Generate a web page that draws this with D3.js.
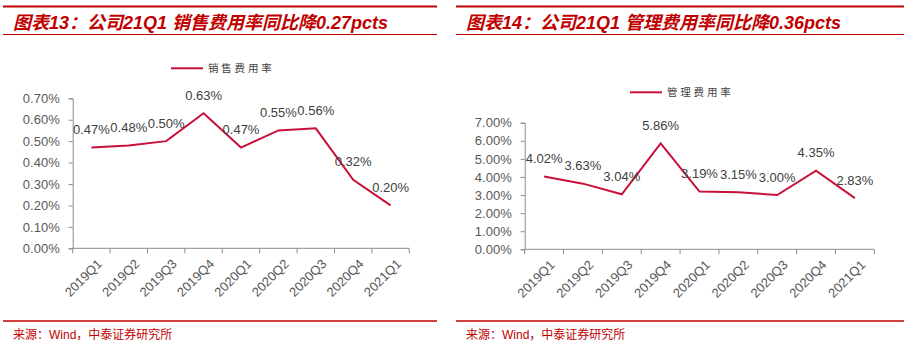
<!DOCTYPE html>
<html><head><meta charset="utf-8">
<script src="https://cdn.jsdelivr.net/npm/d3@7"></script>
<style>
body{margin:0;background:#fff;}
svg{display:block;}
</style></head>
<body>
<svg id="c" width="904" height="350"></svg>
<script>
const categories = ["2019Q1","2019Q2","2019Q3","2019Q4","2020Q1","2020Q2","2020Q3","2020Q4","2021Q1"];
const salesRate = [0.47,0.48,0.50,0.63,0.47,0.55,0.56,0.32,0.20];
const adminRate = [4.02,3.63,3.04,5.86,3.19,3.15,3.00,4.35,2.83];
const salesTicks = [0,0.1,0.2,0.3,0.4,0.5,0.6,0.7];
const adminTicks = [0,1,2,3,4,5,6,7];
const titles = ["图表13：公司21Q1 销售费用率同比降0.27pcts","图表14：公司21Q1 管理费用率同比降0.36pcts"];
const legendNames = ["销售费用率","管理费用率"];
const sourceText = "来源：Wind，中泰证券研究所";

const svg = d3.select("#c");
const RED = "#c00000", LINE = "#c8103a", AXIS = "#8c8c8c", TXT = "#595959", LBL = "#404040";
const FONT = "'Liberation Sans', Arial, sans-serif";
const MIX = "'Liberation Sans', 'Noto Sans CJK SC', sans-serif";
const CJK = "'Noto Sans CJK SC', sans-serif";

function panel(cfg){
  const g = svg.append("g");
  g.append("line").attr("x1",cfg.px0).attr("x2",cfg.px1).attr("y1",6.5).attr("y2",6.5).attr("stroke",RED).attr("stroke-width",2);
  g.append("line").attr("x1",cfg.px0).attr("x2",cfg.px1).attr("y1",34.5).attr("y2",34.5).attr("stroke",RED).attr("stroke-width",1);
  g.append("line").attr("x1",cfg.px0).attr("x2",cfg.bx1).attr("y1",321).attr("y2",321).attr("stroke",RED).attr("stroke-width",1.3);
  g.append("text").attr("x",cfg.px0+10).attr("y",28.5).attr("fill",RED)
    .attr("font-family",MIX).attr("font-size",18).attr("font-weight","bold").attr("font-style","italic")
    .text(cfg.title);
  g.append("text").attr("x",cfg.px0+10).attr("y",339).attr("fill",RED)
    .attr("font-family",MIX).attr("font-size",12).text(sourceText);

  const x = d3.scaleBand().domain(categories).range(cfg.xr);
  const y = d3.scaleLinear().domain(cfg.yd).range(cfg.yr);
  const y0 = y(0);
  const ya = g.append("g").attr("transform",`translate(${cfg.xr[0]},0)`)
    .call(d3.axisLeft(y).tickValues(cfg.ticks).tickSize(4).tickPadding(9).tickFormat(d=>d3.format(cfg.fmt)(d)+"%"));
  ya.select(".domain").attr("stroke",AXIS);
  ya.selectAll(".tick line").attr("stroke",AXIS);
  ya.selectAll(".tick text").attr("fill",TXT).attr("font-family",FONT).attr("font-size",13);
  g.append("line").attr("x1",cfg.xr[0]).attr("x2",cfg.xr[1]).attr("y1",y0).attr("y2",y0).attr("stroke",AXIS);
  const bounds = categories.map(c=>x(c)).concat([x.range()[1]]);
  g.selectAll(".xt").data(bounds).join("line").attr("x1",d=>d).attr("x2",d=>d).attr("y1",y0).attr("y2",y0+5).attr("stroke",AXIS);
  g.selectAll(".xl").data(categories).join("text")
    .attr("transform",d=>`translate(${x(d)+x.bandwidth()/2+5},${y0+10}) rotate(-45)`)
    .attr("text-anchor","end").attr("dy","0.7em").attr("fill",TXT).attr("font-family",FONT).attr("font-size",13).text(d=>d);
  const cx = d=>x(d)+x.bandwidth()/2;
  const line = d3.line().x((d,i)=>cx(categories[i])).y(d=>y(d));
  g.append("path").datum(cfg.values).attr("d",line).attr("fill","none").attr("stroke",LINE).attr("stroke-width",2).attr("stroke-linejoin","miter");
  g.selectAll(".dl").data(cfg.values).join("text")
    .attr("x",(d,i)=>cx(categories[i])).attr("y",d=>y(d)-18).attr("dy","0.35em")
    .attr("text-anchor","middle").attr("fill",LBL).attr("font-family",FONT).attr("font-size",13)
    .text(d=>d3.format(".2f")(d)+"%");
  g.append("line").attr("x1",cfg.lx).attr("x2",cfg.lx+32).attr("y1",cfg.ly).attr("y2",cfg.ly).attr("stroke",LINE).attr("stroke-width",2);
  g.append("text").attr("x",cfg.lx+37).attr("y",cfg.ly).attr("dy","0.35em").attr("fill",LBL)
    .attr("font-family",CJK).attr("font-size",10.5).attr("letter-spacing",2.8).text(cfg.legend);
}

panel({px0:3,px1:437,bx1:437,title:titles[0],xr:[72.7,409.3],yd:[0,0.7],yr:[248.3,98.3],ticks:salesTicks,fmt:".2f",values:salesRate,lx:171,ly:68.3,legend:legendNames[0]});
panel({px0:456,px1:904,bx1:904,title:titles[1],xr:[524.7,874.3],yd:[0,7],yr:[249.3,122.7],ticks:adminTicks,fmt:".2f",values:adminRate,lx:630,ly:92.3,legend:legendNames[1]});
</script>
</body></html>
